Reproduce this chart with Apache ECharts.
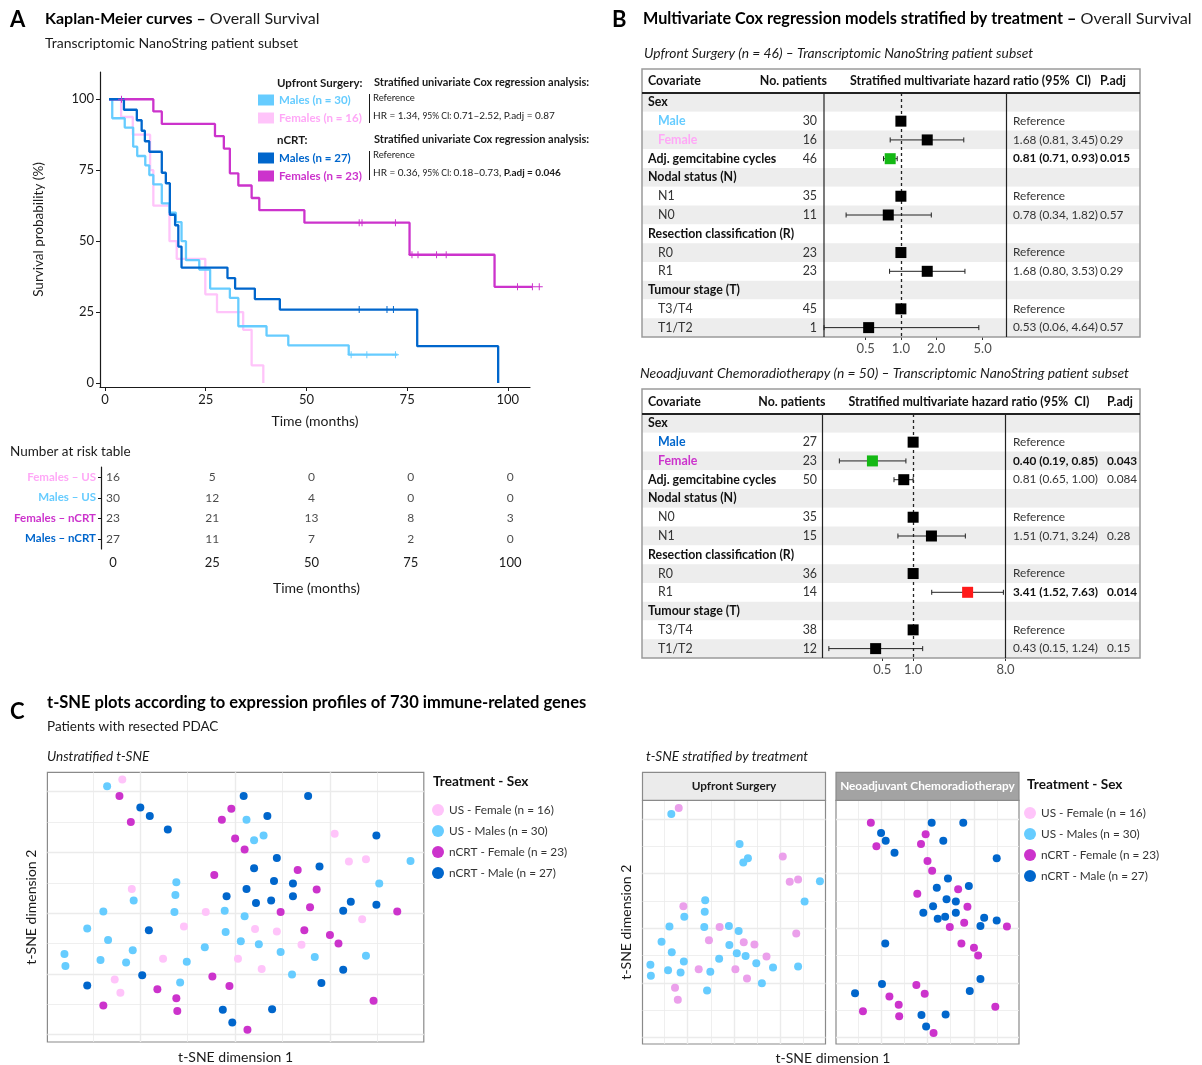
<!DOCTYPE html>
<html>
<head>
<meta charset="utf-8">
<script src="https://cdn.jsdelivr.net/npm/echarts@6/dist/echarts.min.js"></script>
<style>
html,body{margin:0;padding:0;background:#fff;}
#chart{width:1202px;height:1065px;}
</style>
</head>
<body>
<div id="chart"></div>
<script>
// ---------- A: Kaplan-Meier curves (months, survival %) ----------
const usFemaleT = [1, 4.0, 6.9, 11.2, 12.0, 16.0, 17.8, 24.9, 27.8, 34.3, 36.4, 39.3];
const usFemaleS = [100, 93.75, 87.5, 75, 62.5, 50, 43.75, 31.25, 25, 18.75, 6.25, 0];
const usMaleT = [1, 1.8, 4.9, 7.0, 8.0, 10.0, 11.0, 12.0, 14.1, 16.0, 17.6, 19.0, 20.1, 23.4, 26.1, 31.0, 33.1, 40.1, 45.5, 60.5, 72.6];
const usMaleS = [100, 93.3, 90, 83.3, 80, 76.7, 73.3, 70, 63.3, 60, 56.7, 50, 43.3, 40, 33.3, 30, 20, 16.7, 13.3, 10, 10];
const usMaleCens = [61.1, 65.0, 72.1];
const ncrtFemaleT = [1, 12.0, 14.1, 27.3, 29.5, 31.0, 33.1, 36.4, 38.3, 49.5, 75.6, 96.7, 109.5];
const ncrtFemaleS = [100, 95.7, 91.3, 87.0, 82.6, 73.9, 69.6, 65.2, 60.9, 56.5, 45.2, 33.9, 33.9];
const ncrtFemaleCens = [4.1, 63.1, 63.8, 72.1, 76.2, 77.7, 82.3, 84.7, 102.4, 106.1, 107.8];
const ncrtMaleT = [1, 4.7, 7.9, 9.1, 9.9, 11.0, 14.1, 15.1, 16.1, 17.4, 18.2, 19.0, 30.4, 32.3, 37.2, 43.4, 77.5, 97.6];
const ncrtMaleS = [100, 96.3, 92.6, 88.9, 85.2, 81.5, 74.1, 70.4, 59.3, 55.6, 48.1, 40.7, 37.0, 33.3, 29.6, 25.9, 13.0, 0];
const ncrtMaleCens = [63.1, 70.0, 71.6];
const kmTicks = [0, 25, 50, 75, 100];

// univariate cox per treatment (US, nCRT)
const coxHR = [1.34, 0.36];
const coxLo = [0.71, 0.18];
const coxHi = [2.52, 0.73];
const coxP = ['0.87', '0.046'];

// number at risk
const riskRows = ['Females – US', 'Males – US', 'Females – nCRT', 'Males – nCRT'];
const riskTimes = [0, 25, 50, 75, 100];
const riskUsFemale = [16, 5, 0, 0, 0];
const riskUsMale = [30, 12, 4, 0, 0];
const riskNcrtFemale = [23, 21, 13, 8, 3];
const riskNcrtMale = [27, 11, 7, 2, 0];

// ---------- B: multivariate cox ----------
const usCov = ['Sex', 'Male', 'Female', 'Adj. gemcitabine cycles', 'Nodal status (N)', 'N1', 'N0', 'Resection classification (R)', 'R0', 'R1', 'Tumour stage (T)', 'T3/T4', 'T1/T2'];
const usN = ['', 30, 16, 46, '', 35, 11, '', 23, 23, '', 45, 1];
const usHR = [null, 1, 1.68, 0.81, null, 1, 0.78, null, 1, 1.68, null, 1, 0.53];
const usLo = [null, null, 0.81, 0.71, null, null, 0.34, null, null, 0.80, null, null, 0.06];
const usHi = [null, null, 3.45, 0.93, null, null, 1.82, null, null, 3.53, null, null, 4.64];
const usP = ['', '', '0.29', '0.015', '', '', '0.57', '', '', '0.29', '', '', '0.57'];

const ncrtCov = ['Sex', 'Male', 'Female', 'Adj. gemcitabine cycles', 'Nodal status (N)', 'N0', 'N1', 'Resection classification (R)', 'R0', 'R1', 'Tumour stage (T)', 'T3/T4', 'T1/T2'];
const ncrtN = ['', 27, 23, 50, '', 35, 15, '', 36, 14, '', 38, 12];
const ncrtHR = [null, 1, 0.40, 0.81, null, 1, 1.51, null, 1, 3.41, null, 1, 0.43];
const ncrtLo = [null, null, 0.19, 0.65, null, null, 0.71, null, null, 1.52, null, null, 0.15];
const ncrtHi = [null, null, 0.85, 1.00, null, null, 3.24, null, null, 7.63, null, null, 1.24];
const ncrtP = ['', '', '0.043', '0.084', '', '', '0.28', '', '', '0.014', '', '', '0.15'];
const covLevel = [0, 1, 1, 0, 0, 1, 1, 0, 1, 1, 0, 1, 1];
const usHrTicks = [0.5, 1, 2, 5];
const ncrtHrTicks = [0.5, 1, 8];

// ---------- C: t-SNE coordinates ----------
const tsneUsFemale = [[-11.9,22.0],[10.5,13.1],[12.0,8.5],[13.8,8.9],[-10.9,4.0],[-3.1,0.2],[-5.4,-2.2],[2.1,-2.6],[4.4,-3.0],[13.4,-1.0],[7.0,-5.2],[-7.6,-7.5],[0.3,-7.5],[2.8,-9.2],[-12.7,-10.9],[-12.1,-13.1]];
const tsneUsMale = [[-13.5,20.9],[1.2,15.4],[2.0,12.0],[3.0,12.8],[18.5,8.6],[-6.2,5.1],[15.2,4.9],[-6.3,3.0],[-10.7,2.1],[-13.9,0.3],[-6.4,0.2],[-1.1,0.4],[1.0,-0.5],[-15.6,-2.5],[-13.4,-4.4],[-1.0,-3.1],[0.6,-4.6],[2.5,-5.1],[-3.2,-5.6],[-10.8,-6.1],[4.8,-6.4],[-18.0,-6.7],[-14.2,-7.7],[-11.5,-8.1],[-5.1,-8.0],[8.4,-7.2],[13.8,-7.0],[-17.9,-8.7],[6.0,-10.1],[-5.8,-11.4]];
const tsneNcrtFemale = [[-12.2,19.3],[-0.4,17.2],[-1.4,15.4],[-11.0,15.0],[0.0,12.3],[1.0,10.5],[6.6,7.1],[-2.2,6.3],[8.6,3.9],[7.9,1.0],[4.8,0.2],[17.1,0.3],[7.3,-2.8],[10.0,-3.6],[10.9,-5.0],[-2.4,-10.4],[-0.6,-12.0],[-8.2,-12.5],[-6.2,-14.0],[14.6,-14.4],[-13.9,-15.2],[-6.1,-16.1],[1.3,-19.2]];
const tsneNcrtMale = [[0.9,19.3],[7.7,19.3],[-10.0,17.4],[-9.0,16.0],[3.4,16.0],[-7.1,13.8],[14.9,12.8],[4.4,9.1],[2.0,7.4],[8.9,7.7],[4.1,5.3],[6.1,4.9],[1.2,4.0],[-0.9,2.8],[6.1,2.8],[2.2,1.7],[3.8,2.1],[12.2,1.9],[14.9,1.4],[11.4,0.4],[-9.1,-2.8],[-9.8,-10.2],[11.4,-9.3],[-15.6,-11.9],[9.1,-11.5],[-1.3,-15.9],[3.9,-15.8],[-0.3,-18.0]];
const tsneXBreaks = [-15, -10, -5, 0, 5, 10, 15];
const tsneYBreaks = [-20, -15, -10, -5, 0, 5, 10, 15, 20];
const tsneNames = ['US - Female (n = 16)', 'US - Males (n = 30)', 'nCRT - Female (n = 23)', 'nCRT - Male (n = 27)'];

// colours
const C_US_F = '#FFC4FA', C_US_F_TXT = '#FFA8F7', C_US_F_FACET = '#EBA0EB';
const C_US_M = '#66CCFF', C_NC_F = '#CC33CC', C_NC_M = '#0066CC';
const INK = '#1a1a1a', STRIPE = '#EDEDED';
const FONT = 'Lato';
const PLUS = 'path://M0,4.3H10V5.7H0Z M4.3,0H5.7V10H4.3Z';

const grids = [], xAxes = [], yAxes = [], series = [], graphics = [], legends = [];

function txt(x, y, text, font, extra) {
  return {
    type: 'text', x: x, y: y, z: 50, silent: true,
    style: Object.assign({
      text: text, font: font || ('13px ' + FONT), fill: INK,
      align: 'left', textAlign: 'left', verticalAlign: 'middle', textVerticalAlign: 'middle'
    }, extra || {})
  };
}
function line(x1, y1, x2, y2, color, w, z) {
  return { type: 'line', silent: true, z: z || 60, shape: { x1, y1, x2, y2 }, style: { stroke: color, lineWidth: w } };
}
function survAt(T, S, t) {
  let s = S[0];
  for (let i = 0; i < T.length; i++) if (T[i] <= t) s = S[i];
  return s;
}

// ================= A: KM =================
grids.push({ left: 100, top: 72, width: 430, height: 315 });
const axisDark = { onZero: false, lineStyle: { color: INK, width: 1.2 } };
xAxes.push({
  gridIndex: 0, type: 'value', min: -1.24, max: 105.5,
  axisLine: axisDark, splitLine: { show: false },
  axisTick: { customValues: kmTicks, length: 4, lineStyle: { color: INK } },
  axisLabel: { customValues: kmTicks, fontSize: 13, color: INK, margin: 6 },
  name: 'Time (months)', nameLocation: 'middle', nameGap: 27,
  nameTextStyle: { fontSize: 14, color: INK }
});
yAxes.push({
  gridIndex: 0, type: 'value', min: -1.4, max: 109.6,
  axisLine: { show: true, onZero: false, lineStyle: { color: INK, width: 1.2 } }, splitLine: { show: false },
  axisTick: { show: true, customValues: kmTicks, length: 4, lineStyle: { color: INK } },
  axisLabel: { customValues: kmTicks, fontSize: 13, color: INK, margin: 6 },
  name: 'Survival probability (%)', nameLocation: 'middle', nameGap: 54,
  nameTextStyle: { fontSize: 13.5, color: INK }
});
function kmSeries(name, T, S, color) {
  return {
    type: 'line', name: name, xAxisIndex: 0, yAxisIndex: 0, step: 'end', showSymbol: false,
    symbol: 'none', clip: false, silent: true, z: 3,
    data: T.map((t, i) => [t, S[i]]), lineStyle: { color: color, width: 2.3 }, itemStyle: { color: color }
  };
}
function censSeries(T, S, C, color) {
  return {
    type: 'scatter', xAxisIndex: 0, yAxisIndex: 0, symbol: PLUS, symbolSize: 7, clip: false,
    silent: true, z: 4, data: C.map(t => [t, survAt(T, S, t)]), itemStyle: { color: color, opacity: 1 }
  };
}
series.push(kmSeries('Females (n = 16)', usFemaleT, usFemaleS, C_US_F));
series.push(kmSeries('Males (n = 30)', usMaleT, usMaleS, C_US_M));
series.push(kmSeries('Females (n = 23)', ncrtFemaleT, ncrtFemaleS, C_NC_F));
series.push(kmSeries('Males (n = 27)', ncrtMaleT, ncrtMaleS, C_NC_M));
series.push(censSeries(usMaleT, usMaleS, usMaleCens, C_US_M));
series.push(censSeries(ncrtFemaleT, ncrtFemaleS, ncrtFemaleCens, C_NC_F));
series.push(censSeries(ncrtMaleT, ncrtMaleS, ncrtMaleCens, C_NC_M));

const kmLegendText = { fontWeight: 'bold', fontSize: 11.5, fontFamily: FONT };
legends.push({
  left: 253, top: 89, orient: 'vertical', icon: 'rect', itemWidth: 16, itemHeight: 11, itemGap: 6,
  selectedMode: false, textStyle: kmLegendText,
  data: [{ name: 'Males (n = 30)', textStyle: { color: C_US_M } }, { name: 'Females (n = 16)', textStyle: { color: C_US_F_TXT } }]
});
legends.push({
  left: 253, top: 147, orient: 'vertical', icon: 'rect', itemWidth: 16, itemHeight: 11, itemGap: 6,
  selectedMode: false, textStyle: kmLegendText,
  data: [{ name: 'Males (n = 27)', textStyle: { color: C_NC_M } }, { name: 'Females (n = 23)', textStyle: { color: C_NC_F } }]
});
const coxTitle = 'Stratified univariate Cox regression analysis:';
const smallRich = { n: { fontSize: 10, fontFamily: FONT, fill: INK }, c: { fontSize: 8.5, fontFamily: FONT, fill: INK }, b: { fontSize: 10, fontWeight: 'bold', fontFamily: FONT, fill: INK } };
[0, 1].forEach(k => {
  const y0 = k === 0 ? 83 : 140;
  graphics.push(txt(277, y0, k === 0 ? 'Upfront Surgery:' : 'nCRT:', 'bold 11.5px ' + FONT));
  graphics.push(txt(374, y0 - 1, coxTitle, 'bold 11px ' + FONT));
  graphics.push(line(369.5, y0 + 11, 369.5, y0 + 40, INK, 1));
  graphics.push(txt(373, y0 + 15, 'Reference', '9.5px ' + FONT));
  const p = k === 1 ? '{b|P.adj = ' + coxP[k] + '}' : '{n|P.adj = ' + coxP[k] + '}';
  graphics.push(txt(373, y0 + 33, '{n|HR = ' + coxHR[k].toFixed(2) + ', }{c|95% CI: }{n|' + coxLo[k].toFixed(2) + '–' + coxHi[k].toFixed(2) + ', }' + p, '10px ' + FONT, { rich: smallRich }));
});

// ---- risk table ----
grids.push({ left: 101, top: 467, width: 431, height: 82 });
xAxes.push({
  gridIndex: 1, type: 'value', min: -3, max: 105.5,
  axisLine: axisDark, splitLine: { show: false },
  axisTick: { customValues: riskTimes, length: 4, lineStyle: { color: INK } },
  axisLabel: { customValues: riskTimes, fontSize: 13, color: INK, margin: 7 },
  name: 'Time (months)', nameLocation: 'middle', nameGap: 32,
  nameTextStyle: { fontSize: 14, color: INK }
});
const riskColors = [C_US_F_TXT, C_US_M, C_NC_F, C_NC_M];
const riskRich = {};
riskColors.forEach((c, i) => { riskRich['r' + i] = { color: c, fontWeight: 'bold', fontSize: 11.5, fontFamily: FONT }; });
yAxes.push({
  gridIndex: 1, type: 'category', data: riskRows, inverse: true,
  axisLine: { show: true, onZero: false, lineStyle: { color: INK, width: 1.2 } },
  axisTick: { show: true, alignWithLabel: true, length: 3, lineStyle: { color: INK } },
  axisLabel: { interval: 0, margin: 5, formatter: (v, i) => '{r' + i + '|' + v + '}', rich: riskRich }
});
[riskUsFemale, riskUsMale, riskNcrtFemale, riskNcrtMale].forEach((arr, r) => {
  series.push({
    type: 'scatter', xAxisIndex: 1, yAxisIndex: 1, symbolSize: 1, silent: true,
    itemStyle: { color: 'rgba(0,0,0,0)' },
    label: { show: true, position: 'inside', formatter: p => String(p.value[2]), color: INK, fontSize: 12, fontFamily: FONT },
    data: arr.map((n, j) => [riskTimes[j], r, n])
  });
});
graphics.push(txt(10, 20, 'A', 'bold 22px ' + FONT, { fill: '#000' }));
graphics.push(txt(45, 19, '{b|Kaplan-Meier curves –} Overall Survival', '16px ' + FONT, { rich: { b: { fontWeight: 'bold', fontSize: 16, fontFamily: FONT, fill: '#000' } } }));
graphics.push(txt(45, 43, 'Transcriptomic NanoString patient subset', '14px ' + FONT));
graphics.push(txt(10, 452, 'Number at risk table', '13.5px ' + FONT));

// ================= B: forest tables =================
const FOREST = [
  { top: 69, head: 93, bottom: 337, left: 642, right: 1140, plotL: 824, plotR: 1006.5, nX: 817, hrX: 1013, pX: 1100 },
  { top: 389, head: 414, bottom: 658, left: 642, right: 1140, plotL: 822.5, plotR: 1005.5, nX: 817, hrX: 1013, pX: 1107 }
];
function buildForest(L, cov, nArr, hr, lo, hi, pArr, maleC, femC, axMin, axMax, ticks) {
  const gT = grids.length;
  grids.push({ left: L.left, top: L.head, width: L.right - L.left, height: L.bottom - L.head });
  const xT = xAxes.length;
  xAxes.push({ gridIndex: gT, type: 'value', min: 0, max: 1, show: false });
  const base = { gridIndex: gT, type: 'category', data: cov, inverse: true, z: 10, axisLine: { show: false }, axisTick: { show: false }, splitLine: { show: false } };
  const sig = i => pArr[i] !== '' && parseFloat(pArr[i]) < 0.05;
  const yCov = yAxes.length;
  yAxes.push(Object.assign({}, base, {
    position: 'left',
    axisLabel: {
      interval: 0, align: 'left', margin: -6,
      formatter: (v, i) => covLevel[i] === 0 ? '{h|' + v + '}' : v === 'Male' ? '{m|' + v + '}' : v === 'Female' ? '{f|' + v + '}' : '{s|' + v + '}',
      rich: {
        h: { fontWeight: 'bold', fontSize: 12.4, color: '#111', fontFamily: FONT },
        s: { fontSize: 12.4, color: '#333', fontFamily: FONT, padding: [0, 0, 0, 10] },
        m: { fontWeight: 'bold', fontSize: 12.4, color: maleC, fontFamily: FONT, padding: [0, 0, 0, 10] },
        f: { fontWeight: 'bold', fontSize: 12.4, color: femC, fontFamily: FONT, padding: [0, 0, 0, 10] }
      }
    }
  }));
  yAxes.push(Object.assign({}, base, {
    position: 'left',
    axisLabel: { interval: 0, align: 'right', margin: -(L.nX - L.left), formatter: (v, i) => String(nArr[i]), fontSize: 12.4, color: '#333', fontFamily: FONT }
  }));
  const tRich = { n: { fontSize: 11.8, color: '#333', fontFamily: FONT }, b: { fontSize: 11.8, fontWeight: 'bold', color: '#111', fontFamily: FONT } };
  yAxes.push(Object.assign({}, base, {
    position: 'right',
    axisLabel: {
      interval: 0, align: 'left', margin: -(L.right - L.hrX), rich: tRich,
      formatter: (v, i) => {
        if (hr[i] == null) return '';
        if (lo[i] == null) return '{n|Reference}';
        const t = hr[i].toFixed(2) + ' (' + lo[i].toFixed(2) + ', ' + hi[i].toFixed(2) + ')';
        return sig(i) ? '{b|' + t + '}' : '{n|' + t + '}';
      }
    }
  }));
  yAxes.push(Object.assign({}, base, {
    position: 'right',
    axisLabel: { interval: 0, align: 'left', margin: -(L.right - L.pX), rich: tRich, formatter: (v, i) => pArr[i] === '' ? '' : sig(i) ? '{b|' + pArr[i] + '}' : '{n|' + pArr[i] + '}' }
  }));
  series.push({
    type: 'bar', xAxisIndex: xT, yAxisIndex: yCov, barCategoryGap: '0%', silent: true, z: 1,
    data: cov.map((c, i) => ({ value: 1, itemStyle: { color: i % 2 === 0 ? STRIPE : '#ffffff' } }))
  });
  // plot column
  const gP = grids.length;
  grids.push({ left: L.plotL, top: L.head, width: L.plotR - L.plotL, height: L.bottom - L.head });
  const xP = xAxes.length;
  const lt = ticks.map(Math.log);
  xAxes.push({
    gridIndex: gP, type: 'value', min: axMin, max: axMax, axisLine: { show: false, onZero: false }, splitLine: { show: false },
    axisTick: { show: true, customValues: lt, length: 3, lineStyle: { color: '#333' } },
    axisLabel: { customValues: lt, formatter: v => Math.exp(v).toFixed(1), color: '#4d4d4d', fontSize: 13, margin: 5, fontFamily: FONT }
  });
  const yP = yAxes.length;
  yAxes.push(Object.assign({}, base, { gridIndex: gP, show: false }));
  const bars = [];
  hr.forEach((h, i) => { if (lo[i] != null) bars.push([Math.log(Math.max(lo[i], Math.exp(axMin))), Math.log(hi[i]), i]); });
  series.push({
    type: 'custom', xAxisIndex: xP, yAxisIndex: yP, z: 4, silent: true, clip: false,
    encode: { x: [0, 1], y: 2 }, data: bars,
    renderItem: (params, api) => {
      const a = api.coord([api.value(0), api.value(2)]);
      const b = api.coord([api.value(1), api.value(2)]);
      const st = { stroke: '#222', lineWidth: 1 };
      return {
        type: 'group', children: [
          { type: 'line', shape: { x1: a[0], y1: a[1], x2: b[0], y2: b[1] }, style: st },
          { type: 'line', shape: { x1: a[0], y1: a[1] - 2.5, x2: a[0], y2: a[1] + 2.5 }, style: st },
          { type: 'line', shape: { x1: b[0], y1: b[1] - 2.5, x2: b[0], y2: b[1] + 2.5 }, style: st }
        ]
      };
    }
  });
  const sq = [];
  hr.forEach((h, i) => {
    if (h == null) return;
    const c = sig(i) ? (h < 1 ? '#14B814' : '#FF1A1A') : '#000000';
    sq.push({ value: [Math.log(h), i], itemStyle: { color: c, opacity: 1 } });
  });
  series.push({
    type: 'scatter', xAxisIndex: xP, yAxisIndex: yP, z: 5, symbol: 'rect', symbolSize: 11, silent: true, data: sq,
    itemStyle: { opacity: 1 },
    markLine: { silent: true, symbol: 'none', z: 3, animation: false, label: { show: false }, lineStyle: { type: [3, 3], color: '#222', width: 1.3 }, data: [{ xAxis: 0 }] }
  });
  // frame
  graphics.push({ type: 'rect', silent: true, z: 60, shape: { x: L.left, y: L.top, width: L.right - L.left, height: L.bottom - L.top }, style: { fill: 'none', stroke: '#9a9a9a', lineWidth: 1.5 } });
  graphics.push(line(L.left, L.head, L.right, L.head, '#222', 2));
  graphics.push(line(L.plotL, L.head, L.plotL, L.bottom, '#222', 1.2));
  graphics.push(line(L.plotR, L.head, L.plotR, L.bottom, '#222', 1.2));
  const hy = (L.top + L.head) / 2;
  const hf = 'bold 12.4px ' + FONT;
  graphics.push(txt(L.left + 6, hy, 'Covariate', hf, { fill: '#111' }));
  graphics.push(txt(L.plotL + 3, hy, 'No. patients', hf, { fill: '#111', align: 'right', textAlign: 'right' }));
  graphics.push(txt(L.plotL + 26, hy, 'Stratified multivariate hazard ratio (95%  CI)', hf, { fill: '#111' }));
  graphics.push(txt(L.pX, hy, 'P.adj', hf, { fill: '#111' }));
}
buildForest(FOREST[0], usCov, usN, usHR, usLo, usHi, usP, C_US_M, C_US_F_TXT, Math.log(0.22), Math.log(8), usHrTicks);
buildForest(FOREST[1], ncrtCov, ncrtN, ncrtHR, ncrtLo, ncrtHi, ncrtP, C_NC_M, C_NC_F, Math.log(0.13), Math.log(8), ncrtHrTicks);
graphics.push(txt(612, 20, 'B', 'bold 22px ' + FONT, { fill: '#000' }));
graphics.push(txt(643, 19, '{b|Multivariate Cox regression models stratified by treatment –} Overall Survival', '16.2px ' + FONT, { rich: { b: { fontWeight: 'bold', fontSize: 16.2, fontFamily: FONT, fill: '#000' } } }));
graphics.push(txt(644, 54, 'Upfront Surgery (n = 46) – Transcriptomic NanoString patient subset', 'italic 13.8px ' + FONT));
graphics.push(txt(640, 374, 'Neoadjuvant Chemoradiotherapy (n = 50) – Transcriptomic NanoString patient subset', 'italic 13.8px ' + FONT));

// ================= C: t-SNE =================
function tsnePanel(box, xr, yr, yName) {
  const g = grids.length;
  grids.push({ left: box.left, top: box.top, width: box.width, height: box.height, show: true, borderColor: '#8a8a8a', borderWidth: 1.2 });
  const xi = xAxes.length, yi = yAxes.length;
  const hidden = { axisLine: { show: false, onZero: false }, axisTick: { show: false }, axisLabel: { show: false }, splitLine: { show: false } };
  xAxes.push(Object.assign({ gridIndex: g, type: 'value', min: xr[0], max: xr[1] }, hidden));
  yAxes.push(Object.assign({
    gridIndex: g, type: 'value', min: yr[0], max: yr[1],
    name: yName || '', nameLocation: 'middle', nameGap: 9, nameTextStyle: { fontSize: 14, color: INK }
  }, hidden));
  const gl = [];
  tsneXBreaks.forEach(v => gl.push({ xAxis: v, lineStyle: { width: v % 10 === 0 ? 1.4 : 0.8 } }));
  tsneYBreaks.forEach(v => gl.push({ yAxis: v, lineStyle: { width: v % 10 === 0 ? 1.4 : 0.8 } }));
  series.push({
    type: 'line', xAxisIndex: xi, yAxisIndex: yi, data: [], silent: true, z: 1,
    markLine: { silent: true, symbol: 'none', z: 1, animation: false, label: { show: false }, lineStyle: { color: '#EBEBEB', type: 'solid' }, data: gl }
  });
  return [xi, yi];
}
function dots(ax, name, data, color) {
  series.push({ type: 'scatter', name: name, xAxisIndex: ax[0], yAxisIndex: ax[1], symbolSize: 8, z: 3, silent: true, data: data, itemStyle: { color: color, opacity: 1 } });
}
const unstrat = tsnePanel({ left: 47.4, top: 772.3, width: 376.4, height: 271.7 }, [-19.8, 19.9], [-21.2, 23.2], 't-SNE dimension 2');
xAxes[unstrat[0]].name = 't-SNE dimension 1';
xAxes[unstrat[0]].nameLocation = 'middle';
xAxes[unstrat[0]].nameGap = 8;
xAxes[unstrat[0]].nameTextStyle = { fontSize: 14, color: INK };
dots(unstrat, tsneNames[0], tsneUsFemale, C_US_F);
dots(unstrat, tsneNames[1], tsneUsMale, C_US_M);
dots(unstrat, tsneNames[2], tsneNcrtFemale, C_NC_F);
dots(unstrat, tsneNames[3], tsneNcrtMale, C_NC_M);

const FACETS = [
  { left: 642.5, width: 183, label: 'Upfront Surgery', fill: '#EBEBEB', color: '#1a1a1a' },
  { left: 836, width: 183, label: 'Neoadjuvant Chemoradiotherapy', fill: '#A3A3A3', color: '#ffffff' }
];
const facetUS = tsnePanel({ left: FACETS[0].left, top: 800.3, width: FACETS[0].width, height: 243.7 }, [-19.7, 19.7], [-21.2, 23.4], 't-SNE dimension 2');
const facetNC = tsnePanel({ left: FACETS[1].left, top: 800.3, width: FACETS[1].width, height: 243.7 }, [-19.7, 19.7], [-21.2, 23.4], '');
dots(facetUS, tsneNames[0], tsneUsFemale, C_US_F_FACET);
dots(facetUS, tsneNames[1], tsneUsMale, C_US_M);
dots(facetNC, tsneNames[2], tsneNcrtFemale, C_NC_F);
dots(facetNC, tsneNames[3], tsneNcrtMale, C_NC_M);
FACETS.forEach(f => {
  graphics.push({ type: 'rect', silent: true, z: 40, shape: { x: f.left, y: 772.3, width: f.width, height: 28 }, style: { fill: f.fill, stroke: '#8a8a8a', lineWidth: 1.2 } });
  graphics.push(txt(f.left + f.width / 2, 786.3, f.label, 'bold 11.8px ' + FONT, { fill: f.color, align: 'center', textAlign: 'center' }));
});
const tsneLegendBase = { orient: 'vertical', icon: 'circle', itemWidth: 12, itemHeight: 12, itemGap: 9, selectedMode: false, textStyle: { fontSize: 11.8, color: '#333', fontFamily: FONT }, data: tsneNames };
legends.push(Object.assign({ left: 427, top: 799 }, tsneLegendBase));
legends.push(Object.assign({ left: 1019, top: 802 }, tsneLegendBase));
graphics.push(txt(433, 782, 'Treatment - Sex', 'bold 13.6px ' + FONT, { fill: '#111' }));
graphics.push(txt(1027, 785, 'Treatment - Sex', 'bold 13.6px ' + FONT, { fill: '#111' }));
graphics.push(txt(10, 712, 'C', 'bold 22px ' + FONT, { fill: '#000' }));
graphics.push(txt(47, 703, 't-SNE plots according to expression profiles of 730 immune-related genes', 'bold 16.5px ' + FONT, { fill: '#000' }));
graphics.push(txt(47, 727, 'Patients with resected PDAC', '13.5px ' + FONT));
graphics.push(txt(47, 757, 'Unstratified t-SNE', 'italic 13.5px ' + FONT));
graphics.push(txt(646, 757, 't-SNE stratified by treatment', 'italic 13.5px ' + FONT));
graphics.push(txt(833, 1058, 't-SNE dimension 1', '14px ' + FONT, { align: 'center', textAlign: 'center' }));

const chart = echarts.init(document.getElementById('chart'), null, { renderer: 'canvas' });
chart.setOption({
  animation: false,
  backgroundColor: '#ffffff',
  textStyle: { fontFamily: FONT },
  grid: grids,
  xAxis: xAxes,
  yAxis: yAxes,
  legend: legends,
  series: series,
  graphic: { elements: graphics }
});
</script>
</body>
</html>
